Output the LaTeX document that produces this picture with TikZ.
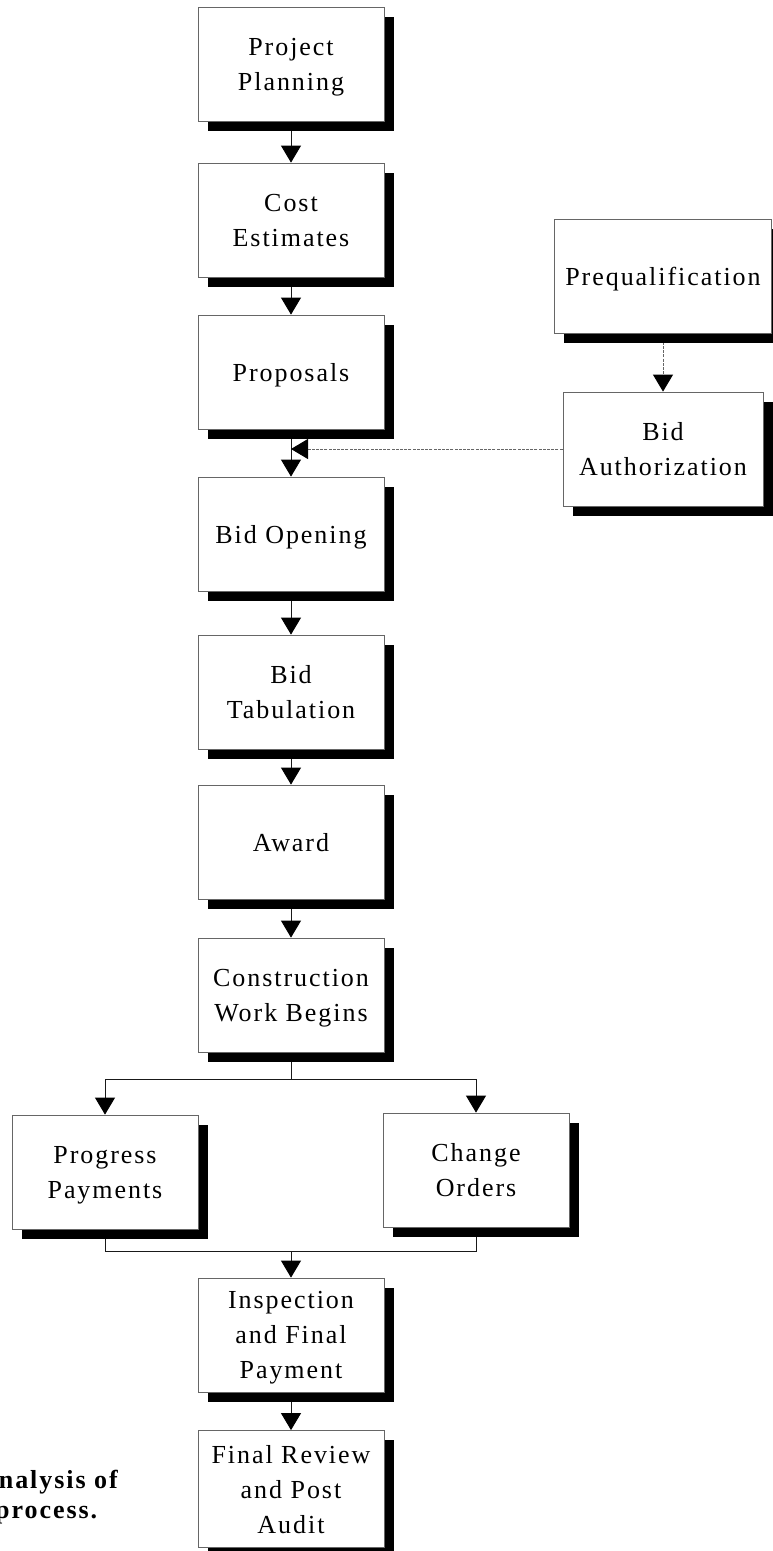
\documentclass[tikz,border=0pt]{standalone}
\usepackage{fontspec}
\setmainfont{Liberation Serif}
\newfontfamily\boxfont[LetterSpace=7.5]{Liberation Serif}
\usetikzlibrary{arrows.meta,shadows,backgrounds}
\begin{document}
\begin{tikzpicture}[x=1pt,y=-1pt,
  box/.style={draw=black!60, line width=0.8pt, fill=white,
    minimum width=186pt, minimum height=114pt, inner sep=0pt,
    align=center, text depth=0pt,
    font=\boxfont\fontsize{26}{35}\selectfont,
    drop shadow={shadow xshift=9.5pt, shadow yshift=-9.5pt, opacity=1, fill=black}},
  conn/.style={draw=black!90, line width=0.9pt},
  arr/.style={conn, -{Triangle[width=20pt,length=17pt,color=black]}},
  dconn/.style={draw=black!60, line width=0.9pt, dash pattern=on 3pt off 1.2pt},
  darr/.style={dconn, -{Triangle[width=20pt,length=17pt,color=black]}},
  captext/.style={inner sep=0pt, font=\boxfont\bfseries\fontsize{26}{30}\selectfont}
]
\useasboundingbox (0,0) rectangle (773,1551);

\node[box] (pp) at (291,64) {Project\\Planning};
\node[box] (ce) at (291,220) {Cost\\Estimates};
\node[box] (pr) at (291,372) {Proposals};
\node[box] (bo) at (291,534) {Bid Opening};
\node[box] (bt) at (291,692) {Bid\\Tabulation};
\node[box] (aw) at (291,842) {Award};
\node[box] (cw) at (291,995) {Construction\\Work Begins};
\node[box] (pg) at (105,1172) {Progress\\Payments};
\node[box] (co) at (476,1170) {Change\\Orders};
\node[box] (ip) at (291,1335) {Inspection\\and Final\\Payment};
\node[box, minimum height=117pt] (fr) at (291,1489) {Final Review\\and Post\\Audit};
\node[box, minimum width=217pt] (pq) at (663,276) {Prequalification};
\node[box, minimum width=200pt] (ba) at (663,449) {Bid\\Authorization};

\node[captext, anchor=base east] (c1) at (118,1488) {nalysis of};
\node[captext, anchor=base west] (c2) at (-5,1518) {process.};

\begin{scope}[on background layer]
\draw[arr] (pp) -- (ce);
\draw[arr] (ce) -- (pr);
\draw[arr] (pr) -- (bo);
\draw[arr] (bo) -- (bt);
\draw[arr] (bt) -- (aw);
\draw[arr] (aw) -- (cw);
\path (cw.south) ++(0,27) coordinate (b1);
\draw[arr] (cw.south) -- (b1) -| (pg.north);
\draw[arr] (b1) -| (co.north);
\path (ip.north) ++(0,-26) coordinate (m1);
\draw[conn] (pg.south) |- (m1);
\draw[conn] (co.south) |- (m1);
\draw[arr] (m1) -- (ip.north);
\draw[arr] (ip) -- (fr);
\draw[darr] (pq) -- (ba);
\coordinate (j1) at (pr.south |- ba.west);
\draw[darr] (ba.west) -- (j1);
\end{scope}
\end{tikzpicture}
\end{document}
